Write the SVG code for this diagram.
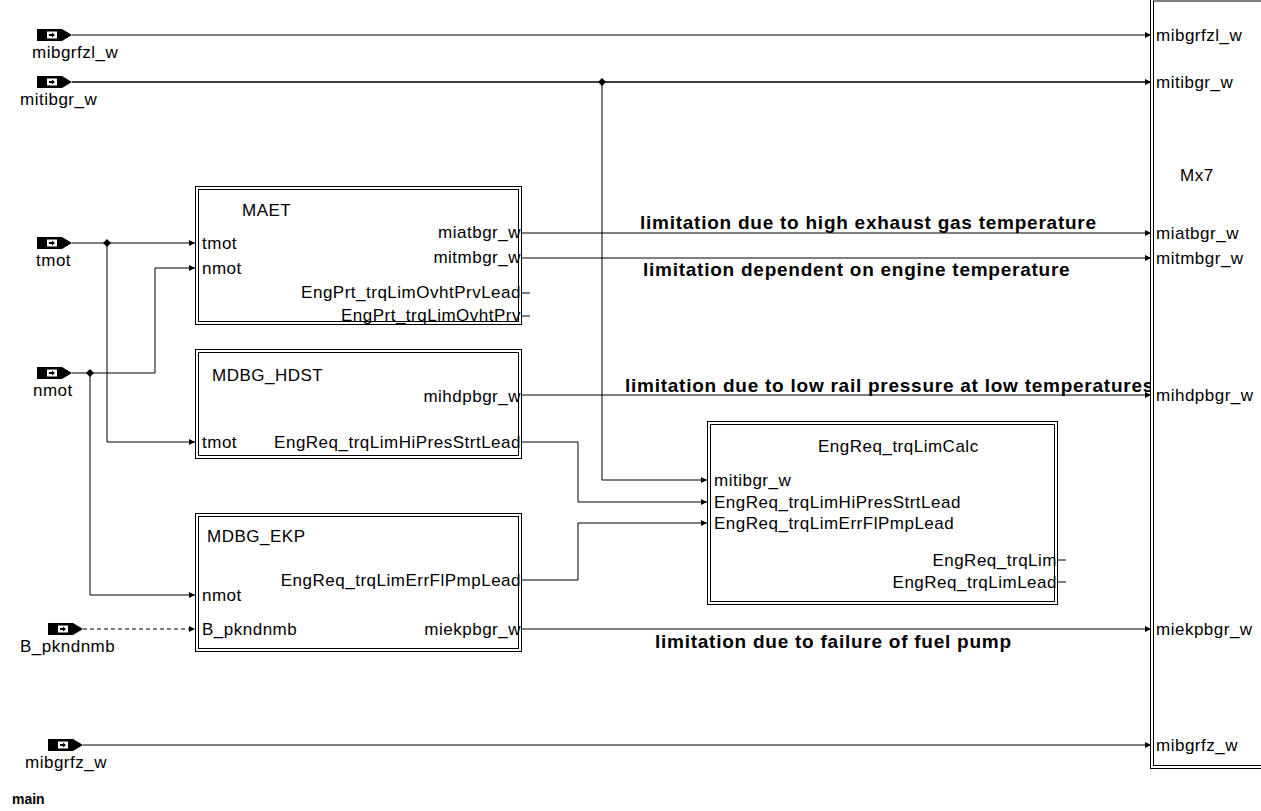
<svg xmlns="http://www.w3.org/2000/svg" width="1261" height="811" viewBox="0 0 1261 811">
<defs>
<marker id="arr" markerWidth="7" markerHeight="7" refX="6" refY="3.5" orient="auto" markerUnits="userSpaceOnUse">
<path d="M0,0.5 L6,3.5 L0,6.5 z" fill="#000"/>
</marker>
<g id="port">
<rect x="0" y="-6" width="25" height="12" fill="#000"/>
<path d="M25,-6 L35,0 L25,6 z" fill="#000"/>
<rect x="10" y="-3.5" width="10" height="7" fill="#fff"/>
<path d="M12,-1 L15,-1 L15,-2.5 L18,0 L15,2.5 L15,1 L12,1 z" fill="#000"/>
</g>
<path id="dot" d="M0,-4 L4,0 L0,4 L-4,0 z" fill="#000"/>
</defs>
<style>
text{font-family:"Liberation Sans",Arial,sans-serif;font-size:17px;letter-spacing:0.5px;fill:#000}
.b{font-weight:bold;font-size:19px;letter-spacing:0.75px}
.r{text-anchor:end}
.w{fill:none;stroke:#000;stroke-width:1}
.blk{fill:#fff;stroke:#000;stroke-width:1}
</style>
<rect width="1261" height="811" fill="#fff"/>

<g id="connectors">
<path class="w" d="M72,35 H1151" marker-end="url(#arr)"/>
<path class="w" d="M72,82 H1151" style="stroke-width:1.6" marker-end="url(#arr)"/>
<path class="w" d="M602,82 V480 H707" marker-end="url(#arr)"/>
<path class="w" d="M72,243 H195" marker-end="url(#arr)"/>
<path class="w" d="M107,243 V442 H195" marker-end="url(#arr)"/>
<path class="w" d="M72,373 H155 V268 H195" marker-end="url(#arr)"/>
<path class="w" d="M90,373 V595 H195" marker-end="url(#arr)"/>
<path class="w" d="M83,629 H195" stroke-dasharray="4,3" marker-end="url(#arr)"/>
<path class="w" d="M83,745 H1151" marker-end="url(#arr)"/>
<path class="w" d="M522,233 H1151" marker-end="url(#arr)"/>
<path class="w" d="M522,258 H1151" marker-end="url(#arr)"/>
<path class="w" d="M522,395 H1151" marker-end="url(#arr)"/>
<path class="w" d="M522,629 H1151" marker-end="url(#arr)"/>
<path class="w" d="M522,442 H578 V502 H707" marker-end="url(#arr)"/>
<path class="w" d="M522,580 H578 V523 H707" marker-end="url(#arr)"/>
<path class="w" d="M522,293 H530 M522,316 H530 M1058,560 H1066 M1058,582 H1066"/>
<use href="#dot" x="602" y="82"/>
<use href="#dot" x="107" y="243"/>
<use href="#dot" x="90" y="373"/>
<text class="b" x="640" y="229">limitation due to high exhaust gas temperature</text>
<text class="b" x="643" y="276">limitation dependent on engine temperature</text>
<text class="b" x="625" y="392">limitation due to low rail pressure at low temperatures</text>
<text class="b" x="655" y="648">limitation due to failure of fuel pump</text>
</g>

<g id="in_mibgrfzl_w"><use href="#port" x="37" y="35"/><text x="32" y="58">mibgrfzl_w</text></g>
<g id="in_mitibgr_w"><use href="#port" x="37" y="82"/><text x="20" y="105">mitibgr_w</text></g>
<g id="in_tmot"><use href="#port" x="37" y="243"/><text x="36" y="266">tmot</text></g>
<g id="in_nmot"><use href="#port" x="37" y="373"/><text x="33" y="396">nmot</text></g>
<g id="in_B_pkndnmb"><use href="#port" x="48" y="629"/><text x="20" y="652">B_pkndnmb</text></g>
<g id="in_mibgrfz_w"><use href="#port" x="48" y="745"/><text x="25" y="768">mibgrfz_w</text></g>

<g id="MAET">
<rect class="blk" x="195.5" y="186.5" width="326" height="138"/>
<rect class="w" x="198.5" y="189.5" width="320" height="132"/>
<text x="242" y="216">MAET</text>
<text x="202" y="249">tmot</text>
<text x="202" y="274">nmot</text>
<text class="r" x="521" y="238">miatbgr_w</text>
<text class="r" x="521" y="263">mitmbgr_w</text>
<text class="r" x="521" y="298">EngPrt_trqLimOvhtPrvLead</text>
<text class="r" x="521" y="321">EngPrt_trqLimOvhtPrv</text>
</g>

<g id="MDBG_HDST">
<rect class="blk" x="195.5" y="349.5" width="326" height="109"/>
<rect class="w" x="198.5" y="352.5" width="320" height="103"/>
<text x="212" y="381">MDBG_HDST</text>
<text x="202" y="448">tmot</text>
<text class="r" x="521" y="402">mihdpbgr_w</text>
<text class="r" x="521" y="448">EngReq_trqLimHiPresStrtLead</text>
</g>

<g id="MDBG_EKP">
<rect class="blk" x="195.5" y="513.5" width="326" height="138"/>
<rect class="w" x="198.5" y="516.5" width="320" height="132"/>
<text x="207" y="542">MDBG_EKP</text>
<text x="202" y="601">nmot</text>
<text x="202" y="635">B_pkndnmb</text>
<text class="r" x="521" y="586">EngReq_trqLimErrFlPmpLead</text>
<text class="r" x="521" y="635">miekpbgr_w</text>
</g>

<g id="EngReq_trqLimCalc">
<rect class="blk" x="707.5" y="421.5" width="350" height="183"/>
<rect class="w" x="710.5" y="424.5" width="344" height="177"/>
<text x="818" y="452">EngReq_trqLimCalc</text>
<text x="714" y="486">mitibgr_w</text>
<text x="714" y="508">EngReq_trqLimHiPresStrtLead</text>
<text x="714" y="529">EngReq_trqLimErrFlPmpLead</text>
<text class="r" x="1057" y="566">EngReq_trqLim</text>
<text class="r" x="1057" y="588">EngReq_trqLimLead</text>
</g>

<g id="Mx7">
<rect class="blk" x="1150.5" y="-2" width="120" height="770.5"/>
<rect class="w" x="1153.5" y="1" width="114" height="764.5"/>
<text x="1180" y="181">Mx7</text>
<text x="1156" y="41">mibgrfzl_w</text>
<text x="1156" y="88">mitibgr_w</text>
<text x="1156" y="239">miatbgr_w</text>
<text x="1156" y="264">mitmbgr_w</text>
<text x="1156" y="401">mihdpbgr_w</text>
<text x="1156" y="635">miekpbgr_w</text>
<text x="1156" y="751">mibgrfz_w</text>
</g>

<text x="12" y="804" style="font-weight:bold;font-size:14px;letter-spacing:0">main</text>
</svg>
